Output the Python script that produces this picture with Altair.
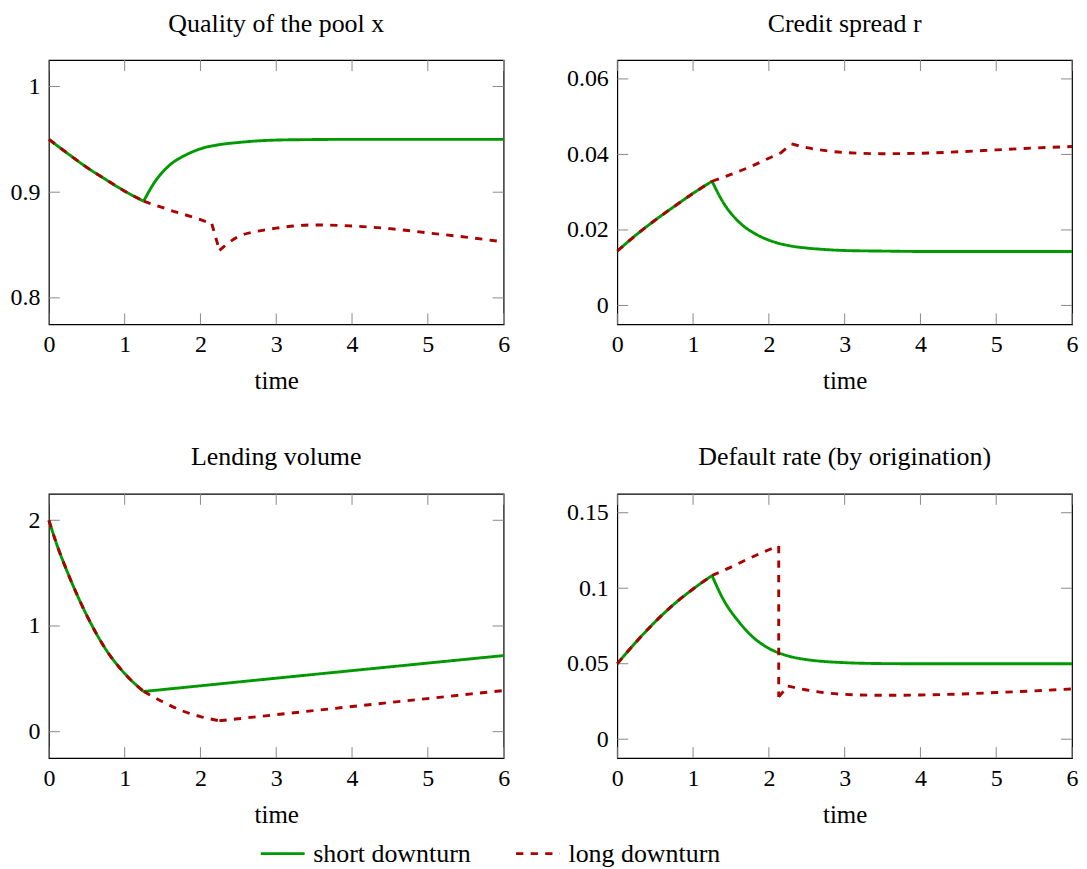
import altair as alt
import pandas as pd

FONT = "Liberation Serif"
GREEN = "#009900"
RED = "#aa0000"
W, H = 456, 265

SERIES = ["short downturn", "long downturn"]
X_TICKS = [0, 1, 2, 3, 4, 5, 6]

# ---- Quality of the pool x ----
QUAL_T_COMMON = [0, 0.25, 0.5, 0.75, 1.0, 1.25]
QUAL_COMMON = [0.950, 0.9365, 0.9235, 0.912, 0.901, 0.8915]
QUAL_T_SHORT = [1.25, 1.4, 1.6, 1.8, 2.0, 2.25, 2.5, 2.75, 3.0, 3.5, 4.0, 6.0]
QUAL_SHORT = [0.8915, 0.910, 0.926, 0.935, 0.941, 0.945, 0.947, 0.9485, 0.9493, 0.9498, 0.950, 0.950]
QUAL_T_LONG = [[1.25, 1.6, 2.0, 2.15], [2.15, 2.25],
               [2.25, 2.5, 2.75, 3.0, 3.5, 4.0, 4.5, 5.0, 5.5, 6.0]]
QUAL_LONG = [[0.8915, 0.883, 0.874, 0.870], [0.870, 0.845],
             [0.845, 0.858, 0.863, 0.866, 0.869, 0.868, 0.8655, 0.8615, 0.8575, 0.853]]
QUAL_Y_TICKS = [0.8, 0.9, 1.0]
QUAL_Y_DOMAIN = [0.775, 1.025]

# ---- Credit spread r ----
SPREAD_T_COMMON = [0, 0.25, 0.5, 0.75, 1.0, 1.25]
SPREAD_COMMON = [0.0144, 0.0187, 0.0226, 0.0262, 0.0297, 0.0329]
SPREAD_T_SHORT = [1.25, 1.4, 1.6, 1.8, 2.0, 2.25, 2.5, 2.75, 3.0, 3.5, 4.0, 6.0]
SPREAD_SHORT = [0.0329, 0.0272, 0.0222, 0.0192, 0.0173, 0.0159, 0.0152, 0.0148, 0.01455, 0.0144, 0.0143, 0.0143]
SPREAD_T_LONG = [[1.25, 1.5, 1.75, 2.0, 2.15], [2.15, 2.3],
                 [2.3, 2.5, 2.75, 3.0, 3.5, 4.0, 4.5, 5.0, 5.5, 6.0]]
SPREAD_LONG = [[0.0329, 0.0347, 0.0367, 0.0390, 0.0403], [0.0403, 0.0428],
               [0.0428, 0.0418, 0.0410, 0.0405, 0.0402, 0.0403, 0.0407, 0.0412, 0.0417, 0.0421]]
SPREAD_Y_TICKS = [0, 0.02, 0.04, 0.06]
SPREAD_Y_DOMAIN = [-0.005, 0.065]

# ---- Lending volume ----
LEND_T_COMMON = [0, 0.1, 0.25, 0.5, 0.75, 1.0, 1.25]
LEND_COMMON = [2.0, 1.78, 1.50, 1.10, 0.78, 0.55, 0.38]
LEND_T_SHORT = [1.25, 3.5, 6.0]
LEND_SHORT = [0.38, 0.542, 0.72]
LEND_T_LONG = [[1.25, 1.5, 1.75, 2.0, 2.25], [2.25, 4.0, 6.0]]
LEND_LONG = [[0.38, 0.283, 0.20, 0.143, 0.103], [0.103, 0.238, 0.389]]
LEND_Y_TICKS = [0, 1, 2]
LEND_Y_DOMAIN = [-0.25, 2.25]

# ---- Default rate (by origination) ----
DEF_T_COMMON = [0, 0.25, 0.5, 0.75, 1.0, 1.25]
DEF_COMMON = [0.050, 0.0645, 0.0778, 0.0895, 0.0995, 0.1084]
DEF_T_SHORT = [1.25, 1.4, 1.6, 1.8, 2.0, 2.25, 2.5, 2.75, 3.0, 3.5, 4.0, 6.0]
DEF_SHORT = [0.1084, 0.0925, 0.0780, 0.0672, 0.0602, 0.0552, 0.0527, 0.0514, 0.0507, 0.0501, 0.050, 0.050]
DEF_T_LONG = [[1.25, 1.5, 1.75, 2.0, 2.13], [2.13, 2.13], [2.13, 2.25],
              [2.25, 2.5, 2.75, 3.0, 3.5, 4.0, 4.5, 5.0, 5.5, 6.0]]
DEF_LONG = [[0.1084, 0.114, 0.120, 0.1255, 0.128], [0.128, 0.028], [0.028, 0.0352],
            [0.0352, 0.0326, 0.0307, 0.0297, 0.0291, 0.0293, 0.0299, 0.0309, 0.0320, 0.0333]]
DEF_Y_TICKS = [0, 0.05, 0.1, 0.15]
DEF_Y_DOMAIN = [-0.0125, 0.1625]


def build(t_common, v_common, t_short, v_short, t_long, v_long):
    rows_s, rows_l = [], []
    i = 0
    for t, v in zip(t_common, v_common):
        rows_s.append({"t": t, "v": v, "series": SERIES[0], "seg": "s0", "i": i})
        rows_l.append({"t": t, "v": v, "series": SERIES[1], "seg": "l0", "i": i})
        i += 1
    for t, v in zip(t_short, v_short):
        rows_s.append({"t": t, "v": v, "series": SERIES[0], "seg": "s1", "i": i})
        i += 1
    for k, (tp, vp) in enumerate(zip(t_long, v_long)):
        for t, v in zip(tp, vp):
            rows_l.append({"t": t, "v": v, "series": SERIES[1], "seg": f"l{k+1}", "i": i})
            i += 1
    return pd.DataFrame(rows_s), pd.DataFrame(rows_l)


LEG = alt.Legend(title=None, orient="none", legendX=211, legendY=772,
                 direction="horizontal", symbolType="stroke", symbolSize=1936,
                 symbolStrokeWidth=2.9, labelFont=FONT, labelFontSize=26,
                 labelColor="#000", labelOffset=7, columnPadding=38, padding=0)


def panel(title, ydom, yticks, data):
    df_s, df_l = build(*data)
    xs = alt.Scale(domain=[0, 6], nice=False, zero=False)
    ys = alt.Scale(domain=ydom, nice=False, zero=False)
    xax = alt.Axis(values=X_TICKS, format="~g", title="time")
    yax = alt.Axis(values=yticks, format="~g", title=None)
    enc = dict(
        x=alt.X("t:Q", scale=xs, axis=xax),
        y=alt.Y("v:Q", scale=ys, axis=yax),
        color=alt.Color("series:N", scale=alt.Scale(domain=SERIES, range=[GREEN, RED]), legend=LEG),
        strokeDash=alt.StrokeDash("series:N", scale=alt.Scale(domain=SERIES, range=[[1, 0], [7.3, 7.3]]), legend=LEG),
        detail="seg:N",
        order="i:Q",
    )
    green = alt.Chart(df_s).mark_line(interpolate="monotone", strokeWidth=2.9).encode(**enc)
    red = alt.Chart(df_l).mark_line(interpolate="monotone", strokeWidth=2.9).encode(**enc)
    yt = pd.DataFrame({"tv": yticks})
    xt = pd.DataFrame({"tt": X_TICKS})
    tick = dict(color="#8a8a8a", strokeWidth=1)
    yl = alt.Chart(yt).mark_rule(**tick).encode(
        y=alt.Y("tv:Q", scale=ys, axis=yax), x=alt.value(0), x2=alt.value(11))
    yr = alt.Chart(yt).mark_rule(**tick).encode(
        y=alt.Y("tv:Q", scale=ys, axis=yax), x=alt.value(W - 11), x2=alt.value(W))
    xb = alt.Chart(xt).mark_rule(**tick).encode(
        x=alt.X("tt:Q", scale=xs, axis=xax), y=alt.value(H - 11), y2=alt.value(H))
    xtp = alt.Chart(xt).mark_rule(**tick).encode(
        x=alt.X("tt:Q", scale=xs, axis=xax), y=alt.value(0), y2=alt.value(11))
    return alt.layer(yl, yr, xb, xtp, green, red).properties(width=W, height=H, title=title)


p1 = panel("Quality of the pool x", QUAL_Y_DOMAIN, QUAL_Y_TICKS,
           (QUAL_T_COMMON, QUAL_COMMON, QUAL_T_SHORT, QUAL_SHORT, QUAL_T_LONG, QUAL_LONG))
p2 = panel("Credit spread r", SPREAD_Y_DOMAIN, SPREAD_Y_TICKS,
           (SPREAD_T_COMMON, SPREAD_COMMON, SPREAD_T_SHORT, SPREAD_SHORT, SPREAD_T_LONG, SPREAD_LONG))
p3 = panel("Lending volume", LEND_Y_DOMAIN, LEND_Y_TICKS,
           (LEND_T_COMMON, LEND_COMMON, LEND_T_SHORT, LEND_SHORT, LEND_T_LONG, LEND_LONG))
p4 = panel("Default rate (by origination)", DEF_Y_DOMAIN, DEF_Y_TICKS,
           (DEF_T_COMMON, DEF_COMMON, DEF_T_SHORT, DEF_SHORT, DEF_T_LONG, DEF_LONG))

chart = alt.ConcatChart(
    concat=[p1, p2, p3, p4], columns=2,
    spacing={"row": 170, "column": 114},
    bounds="flush",
).resolve_scale(
    x="independent", y="independent", color="shared", strokeDash="shared"
).properties(
    padding={"left": 1, "top": 0, "right": 0, "bottom": 0}
).configure_view(
    stroke="#000", strokeWidth=1.2
).configure_axis(
    domain=False, ticks=False, tickSize=0, grid=False,
    labelFont=FONT, labelFontSize=24, labelColor="#000",
    titleFont=FONT, titleFontSize=25, titleFontWeight="normal", titleColor="#000",
    labelOverlap=False,
).configure_axisX(
    labelPadding=8.5, titlePadding=12, labelFlush=False
).configure_axisY(
    labelPadding=9
).configure_title(
    font=FONT, fontSize=26, fontWeight="normal", color="#000", offset=23, anchor="middle"
)

chart.save("out.html", embed_options={"renderer": "svg", "actions": False})
